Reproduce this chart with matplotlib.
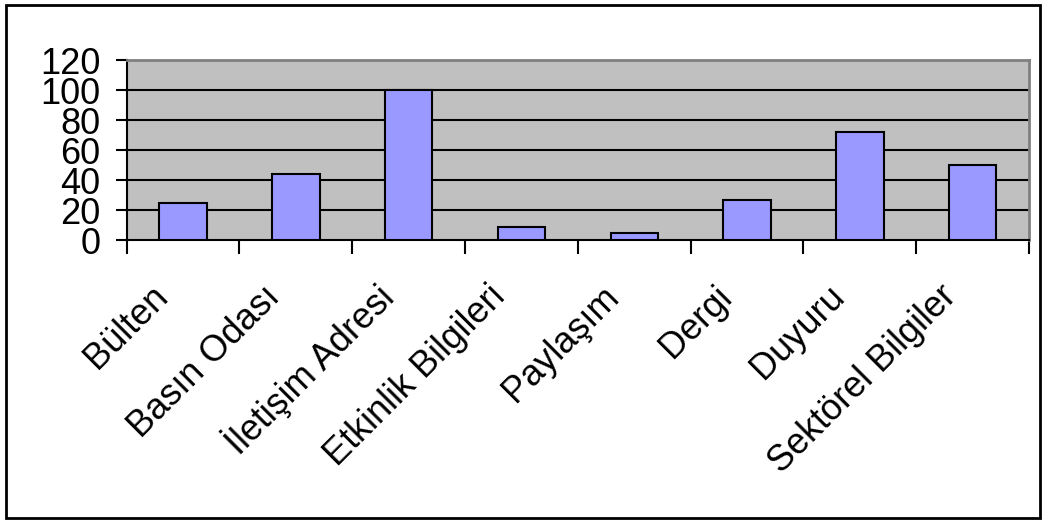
import numpy as np
import matplotlib
matplotlib.use("Agg")
import matplotlib.pyplot as plt
import matplotlib.transforms as mtransforms
from matplotlib.patches import Rectangle

categories = ["Bülten", "Basın Odası", "İletişim Adresi", "Etkinlik Bilgileri",
              "Paylaşım", "Dergi", "Duyuru", "Sektörel Bilgiler"]
values = [25, 44, 100, 9, 5, 27, 72, 50]
yticks = [0, 20, 40, 60, 80, 100, 120]

plt.rcParams["font.family"] = ["Liberation Sans", "DejaVu Sans"]

fig = plt.figure(figsize=(10.48, 5.22), dpi=100)
fig.patches.append(Rectangle((6 / 1048, 4 / 522), 1034 / 1048, 513 / 522,
                             transform=fig.transFigure, fill=False,
                             edgecolor="black", linewidth=2))

ax = fig.add_axes([126.7 / 1048, 1 - 240 / 522, (1029 - 126.7) / 1048, 180 / 522])
ax.set_facecolor("#c0c0c0")

x = np.arange(len(categories))
ax.bar(x, values, width=0.42, color="#9999ff", edgecolor="black", linewidth=1.5, zorder=3)

ax.set_xlim(-0.5, len(categories) - 0.5)
ax.set_ylim(0, 120)
ax.set_yticks(yticks)
ax.set_yticklabels([str(v) for v in yticks], fontsize=26)
ax.tick_params(axis="y", direction="out", length=8, width=1.5, pad=11)
for v in yticks[1:-1]:
    ax.axhline(v, color="black", linewidth=1.5, zorder=1)

# category labels at centres, tick marks at the boundaries
ax.set_xticks(x)
ax.set_xticklabels(categories, fontsize=26)
ax.tick_params(axis="x", length=0, pad=37)
ax.set_xticks(np.arange(-0.5, len(categories)), minor=True)
ax.tick_params(axis="x", which="minor", direction="out", length=10, width=1.5)

offset = mtransforms.ScaledTranslation(-21 / 100, 0, fig.dpi_scale_trans)
for lab in ax.get_xticklabels():
    lab.set_rotation(45)
    lab.set_ha("right")
    lab.set_va("center")
    lab.set_rotation_mode("anchor")
    lab.set_transform(lab.get_transform() + offset)

for side in ["top", "right"]:
    ax.spines[side].set_color("#808080")
    ax.spines[side].set_linewidth(2)
for side in ["left", "bottom"]:
    ax.spines[side].set_color("black")
    ax.spines[side].set_linewidth(1.5)

fig.savefig("out.png", dpi=100)
